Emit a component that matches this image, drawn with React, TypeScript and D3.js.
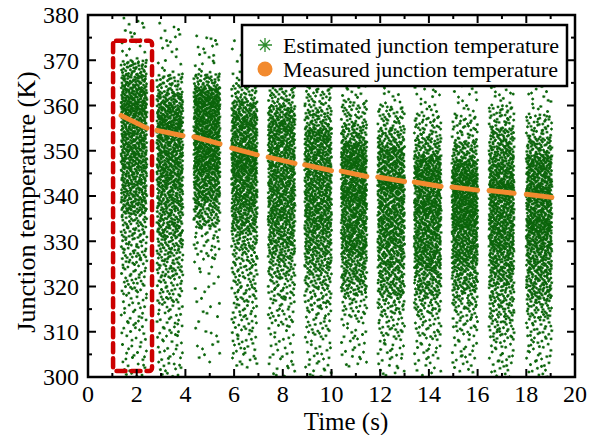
import React from "react";
import * as d3 from "d3";

// ---- data ----
// each pulse forms one band of estimated points (time range, s)
const bandStart = [1.36, 2.83, 4.35, 5.9, 7.4, 8.9, 10.4, 11.9, 13.4, 14.95, 16.47, 18.0];
const bandEnd = [2.42, 3.9, 5.42, 6.95, 8.5, 10.0, 11.45, 13.0, 14.5, 16.0, 17.5, 19.05];
// measured junction temperature at the start / end of each band (K)
const measuredStart = [357.8, 354.5, 353.1, 350.6, 348.6, 346.9, 345.5, 344.2, 343.1, 342.0, 341.2, 340.4];
const measuredEnd = [355.0, 353.3, 351.5, 349.1, 347.2, 345.6, 344.3, 343.2, 342.1, 341.3, 340.6, 339.7];
// distribution of estimated temperature per band (quantiles, K)
const quantileLevels = [0, 0.01, 0.03, 0.06, 0.1, 0.15, 0.2, 0.3, 0.4, 0.5, 0.6, 0.7, 0.8, 0.88, 0.94, 0.98, 1];
const band1Quantiles = [300, 303, 310, 318, 325, 331, 336, 341, 346, 350, 354, 358, 361, 364, 367, 370, 380];
const band2Quantiles = [300, 303, 309, 316, 322, 327, 331, 337, 342, 346, 350, 354, 357, 360, 363, 367, 379];
const band3Quantiles = [303, 310, 326, 333, 336, 339, 341, 345, 348, 351, 354, 357, 360, 362, 364, 367, 376];
const band4Quantiles = [302, 305, 310, 316, 322, 328, 332, 337, 341, 345, 348, 351, 355, 358, 361, 365, 375];
const band5Quantiles = [300, 304, 311, 317, 322, 326, 329, 334, 338, 342, 346, 350, 354, 357, 360, 364, 374];
const band6Quantiles = [300, 303, 309, 315, 320, 324, 327, 332, 336, 340, 344, 348, 352, 355, 359, 364, 374];
const band7Quantiles = [302, 306, 313, 318, 321, 324, 327, 331, 335, 339, 342, 346, 349, 352, 356, 361, 367];
const band8Quantiles = [300, 304, 309, 314, 318, 321, 324, 329, 333, 337, 341, 344, 348, 351, 355, 360, 369];
const band9Quantiles = [300, 304, 309, 314, 318, 321, 324, 328, 332, 336, 339, 343, 346, 349, 353, 358, 366];
const band10Quantiles = [301, 304, 310, 315, 319, 322, 325, 329, 333, 336, 339, 342, 345, 348, 352, 358, 367];
const band11Quantiles = [300, 303, 308, 312, 316, 320, 323, 328, 332, 336, 340, 343, 347, 351, 355, 360, 367];
const band12Quantiles = [300, 303, 308, 313, 317, 320, 323, 328, 332, 335, 339, 342, 346, 349, 353, 358, 366];
const estimatedQuantiles = [
  band1Quantiles, band2Quantiles, band3Quantiles, band4Quantiles, band5Quantiles, band6Quantiles,
  band7Quantiles, band8Quantiles, band9Quantiles, band10Quantiles, band11Quantiles, band12Quantiles,
];
const pointsPerBand = 1000;
const highlight = { x0: 1.03, x1: 2.63, y0: 301.3, y1: 374.3 };
const xTicks = [0, 2, 4, 6, 8, 10, 12, 14, 16, 18, 20];
const yTicks = [300, 310, 320, 330, 340, 350, 360, 370, 380];
const legendLabels = ["Estimated junction temperature", "Measured junction temperature"];
const xTitle = "Time (s)";
const yTitle = "Junction temperature (K)";

// ---- layout ----
const W = 599, H = 435;
const L = 88, R = 575, T = 15, B = 377;
const FONT = '"Liberation Serif", "Times New Roman", Tinos, serif';
const GREEN = "#0b650b";
const ORANGE = "#f28a2e";

function halton(i: number, base: number) {
  let f = 1, r = 0;
  while (i > 0) { f /= base; r += f * (i % base); i = Math.floor(i / base); }
  return r;
}

export default function App() {
  const x = d3.scaleLinear().domain([0, 20]).range([L, R]);
  const y = d3.scaleLinear().domain([300, 380]).range([B, T]);

  const pts: { x: number; y: number }[] = [];
  bandStart.forEach((s, b) => {
    const q = d3.scaleLinear().domain(quantileLevels).range(estimatedQuantiles[b]);
    for (let i = 0; i < pointsPerBand; i++) {
      const k = i + 1 + b * 137;
      const u = halton(k, 2);
      const v = halton(k, 3);
      pts.push({ x: s + u * (bandEnd[b] - s), y: q(v) });
    }
  });

  const star = "M-1.5,0H1.5M0,-1.5V1.5M-1,-1L1,1M-1,1L1,-1";
  const legStar = "M-7,0H7M0,-7V7M-5,-5L5,5M-5,5L5,-5";

  const xMinor = d3.range(1, 20, 2);
  const yMinor = d3.range(305, 380, 10);

  return (
    <svg width={W} height={H} style={{ position: "absolute", left: 0, top: 0, background: "#fff", fontFamily: FONT }}>
      <defs>
        <clipPath id="plot"><rect x={L} y={T} width={R - L} height={B - T} /></clipPath>
      </defs>
      <g clipPath="url(#plot)">
        {pts.map((p, i) => (
          <path key={i} d={star} transform={`translate(${x(p.x).toFixed(1)},${y(p.y).toFixed(1)})`} stroke={GREEN} strokeWidth={1} fill="none" />
        ))}
        {bandStart.map((s, b) => (
          <line key={b} x1={x(s)} x2={x(bandEnd[b])} y1={y(measuredStart[b])} y2={y(measuredEnd[b])} stroke={ORANGE} strokeWidth={5} strokeLinecap="round" />
        ))}
      </g>
      <rect x={x(highlight.x0)} y={y(highlight.y1)} width={x(highlight.x1) - x(highlight.x0)} height={y(highlight.y0) - y(highlight.y1)} rx={3}
        fill="none" stroke="#cc0000" strokeWidth={4.5} strokeDasharray="9 6" strokeLinecap="round" />
      {/* ticks */}
      {xTicks.map((t) => (
        <g key={"xt" + t}>
          <line x1={x(t)} x2={x(t)} y1={B} y2={B - 8} stroke="#000" strokeWidth={2} />
          <line x1={x(t)} x2={x(t)} y1={T} y2={T + 8} stroke="#000" strokeWidth={2} />
          <text x={x(t)} y={402} textAnchor="middle" fontSize={24}>{t}</text>
        </g>
      ))}
      {xMinor.map((t) => (
        <g key={"xm" + t}>
          <line x1={x(t)} x2={x(t)} y1={B} y2={B - 4} stroke="#000" strokeWidth={2} />
          <line x1={x(t)} x2={x(t)} y1={T} y2={T + 4} stroke="#000" strokeWidth={2} />
        </g>
      ))}
      {yTicks.map((t) => (
        <g key={"yt" + t}>
          <line x1={L} x2={L + 8} y1={y(t)} y2={y(t)} stroke="#000" strokeWidth={2} />
          <line x1={R} x2={R - 8} y1={y(t)} y2={y(t)} stroke="#000" strokeWidth={2} />
          <text x={79} y={y(t)} dy="0.35em" textAnchor="end" fontSize={24}>{t}</text>
        </g>
      ))}
      {yMinor.map((t) => (
        <g key={"ym" + t}>
          <line x1={L} x2={L + 4} y1={y(t)} y2={y(t)} stroke="#000" strokeWidth={2} />
          <line x1={R} x2={R - 4} y1={y(t)} y2={y(t)} stroke="#000" strokeWidth={2} />
        </g>
      ))}
      <rect x={L} y={T} width={R - L} height={B - T} fill="none" stroke="#000" strokeWidth={2.5} />
      {/* axis titles */}
      <text x={346} y={430} textAnchor="middle" fontSize={25}>{xTitle}</text>
      <text transform="translate(35,202) rotate(-90)" textAnchor="middle" fontSize={26}>{yTitle}</text>
      {/* legend */}
      <rect x={242} y={25} width={325} height={61} fill="#fff" stroke="#000" strokeWidth={2.5} />
      <path d={legStar} transform="translate(265,45)" stroke="#2e8b2e" strokeWidth={1.3} fill="none" />
      <circle cx={265} cy={69} r={7.5} fill={ORANGE} />
      <text x={283} y={45} dy="0.35em" fontSize={22}>{legendLabels[0]}</text>
      <text x={283} y={69} dy="0.35em" fontSize={22}>{legendLabels[1]}</text>
    </svg>
  );
}
